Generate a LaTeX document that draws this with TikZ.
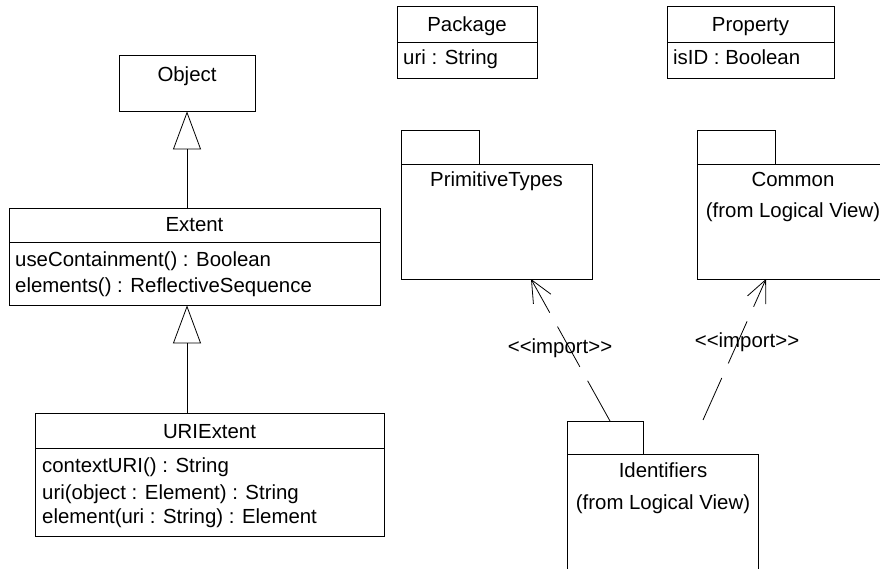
\documentclass[tikz,border=0pt]{standalone}
\usepackage{fontspec}
\setmainfont{Liberation Sans}
\usetikzlibrary{arrows.meta}
\begin{document}
\begin{tikzpicture}[x=1pt,y=-1pt,
  every node/.style={font=\fontsize{20.4}{23}\selectfont},
  box/.style={draw,line width=0.8pt,inner sep=0pt,minimum width=#1},
  txt/.style={anchor=base,inner sep=0pt},
  ltxt/.style={anchor=base west,inner sep=0pt},
  gen/.style={line width=0.8pt,-{Triangle[open,length=38pt,width=28pt]}},
  imp/.style={line width=0.8pt,dash pattern=on 46pt off 16pt,-{Straight Barb[length=22pt,width=20pt]}}
]
\useasboundingbox (0,0) rectangle (880,569);
% Object
\node[box=136,minimum height=56] (obj) at (187,83) {};
\node[txt] (objt) at (187,82) {Object};
% Extent
\node[box=371,minimum height=34] (ext) at (194.5,225) {};
\node[box=371,minimum height=63] (extops) at (194.5,273.5) {};
\node[txt] (extt) at (194.5,232) {Extent};
\node[ltxt] (exto1) at (15,266) {useContainment() : Boolean};
\node[ltxt] (exto2) at (15,292) {elements() : ReflectiveSequence};
% URIExtent
\node[box=349,minimum height=35] (uri) at (209.5,430.5) {};
\node[box=349,minimum height=88] (uriops) at (209.5,492) {};
\node[txt] (urit) at (209.5,438) {URIExtent};
\node[ltxt] (urio1) at (42,472) {contextURI() : String};
\node[ltxt] (urio2) at (42,499) {uri(object : Element) : String};
\node[ltxt] (urio3) at (42,523) {element(uri : String) : Element};
% Package
\node[box=140,minimum height=36] (pkg) at (467,24) {};
\node[box=140,minimum height=36] (pkga) at (467,60) {};
\node[txt] (pkgt) at (467,32) {Package};
\node[ltxt] (pkgat) at (403,65) {uri : String};
% Property
\node[box=167,minimum height=36] (prop) at (750.5,24) {};
\node[box=167,minimum height=36] (propa) at (750.5,60) {};
\node[txt] (propt) at (750.5,32) {Property};
\node[ltxt] (propat) at (673,65) {isID : Boolean};
% PrimitiveTypes package
\node[box=78,minimum height=34] (primtab) at (440,147) {};
\node[box=191,minimum height=115] (prim) at (496.5,221.5) {};
\node[txt] (primt) at (496.5,187) {PrimitiveTypes};
% Common package
\node[box=78,minimum height=34] (comtab) at (736,147) {};
\node[box=192,minimum height=115] (com) at (793,221.5) {};
\node[txt] (comt) at (793,187) {Common};
\node[txt] (comf) at (793,218) {(from Logical View)};
% Identifiers package
\node[box=76,minimum height=33] (idtab) at (605,437.5) {};
\node[box=191,minimum height=146] (id) at (662.5,527) {};
\node[txt] (idt) at (663,477) {Identifiers};
\node[txt] (idf) at (663,509) {(from Logical View)};
% generalizations
\draw[gen] (ext.north -| obj.south) -- (obj.south);
\draw[gen] (uri.north -| obj.south) -- (extops.south -| obj.south);
% imports
\coordinate (i1s) at (610,421);
\coordinate (i1e) at (531,279);
\coordinate (i2s) at (703,420);
\coordinate (i2e) at (766,279);
\draw[imp] (i1s) -- (i1e);
\draw[imp] (i2s) -- (i2e);
\node[txt] (l1) at (560,353) {<{}<import>{}>};
\node[txt] (l2) at (747,347) {<{}<import>{}>};
\end{tikzpicture}
\end{document}
